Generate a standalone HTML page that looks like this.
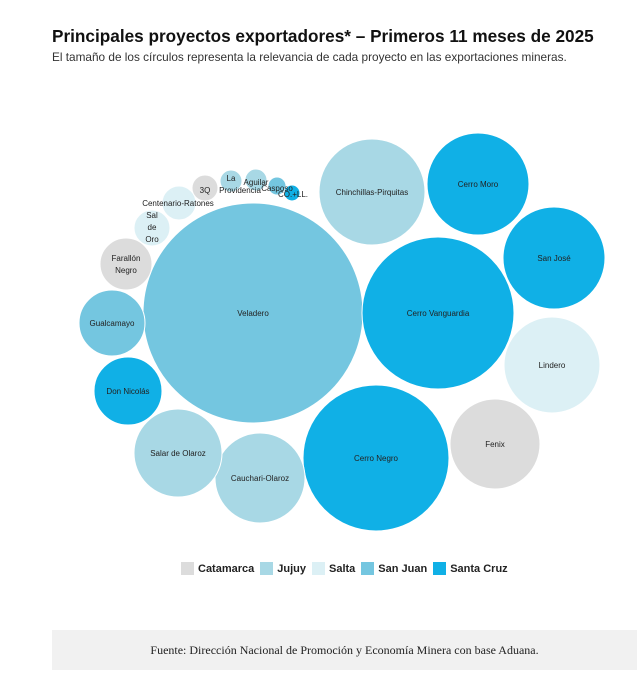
<!DOCTYPE html>
<html><head><meta charset="utf-8"><style>
body{margin:0;width:642px;height:674px;background:#fff;font-family:"Liberation Sans",sans-serif;overflow:hidden;position:relative}
.t{position:absolute;left:52px;top:26px;font-size:17.2px;font-weight:bold;color:#111}
.s{position:absolute;left:52px;top:50px;font-size:11.8px;color:#333}
.f{position:absolute;left:52px;top:630px;width:585px;height:40px;background:#f1f1f1;font-family:"Liberation Serif",serif;font-size:12px;color:#222;text-align:center;line-height:40px}
svg text{font-family:"Liberation Sans",sans-serif;font-size:8px;fill:#222;text-anchor:middle}
</style></head><body>
<div class="t">Principales proyectos exportadores* – Primeros 11 meses de 2025</div>
<div class="s">El tamaño de los círculos representa la relevancia de cada proyecto en las exportaciones mineras.</div>
<svg width="642" height="674" style="position:absolute;left:0;top:0">
<g stroke="#fff" stroke-width="1">
<circle cx="253" cy="313" r="110" fill="#74c6e0"/>
<circle cx="372" cy="192" r="53" fill="#a8d8e5"/>
<circle cx="478" cy="184" r="51" fill="#10b0e6"/>
<circle cx="554" cy="258" r="51" fill="#10b0e6"/>
<circle cx="438" cy="313" r="76" fill="#10b0e6"/>
<circle cx="552" cy="365" r="48" fill="#dcf0f5"/>
<circle cx="495" cy="444" r="45" fill="#dcdcdc"/>
<circle cx="376" cy="458" r="73" fill="#10b0e6"/>
<circle cx="260" cy="478" r="45" fill="#a8d8e5"/>
<circle cx="178" cy="453" r="44" fill="#a8d8e5"/>
<circle cx="128" cy="391" r="34" fill="#10b0e6"/>
<circle cx="112" cy="323" r="33" fill="#74c6e0"/>
<circle cx="126" cy="264" r="26" fill="#dcdcdc"/>
<circle cx="152" cy="228" r="18" fill="#dcf0f5"/>
<circle cx="179" cy="203" r="17" fill="#dcf0f5"/>
<circle cx="205" cy="188" r="13" fill="#dcdcdc"/>
<circle cx="231" cy="181" r="11" fill="#a8d8e5"/>
<circle cx="256" cy="180" r="11" fill="#a8d8e5"/>
<circle cx="277" cy="186" r="9" fill="#74c6e0"/>
<circle cx="292" cy="193" r="8" fill="#10b0e6"/>
</g>
<text x="253" y="316">Veladero</text>
<text x="372" y="195">Chinchillas-Pirquitas</text>
<text x="478" y="187">Cerro Moro</text>
<text x="554" y="261">San José</text>
<text x="438" y="316">Cerro Vanguardia</text>
<text x="552" y="368">Lindero</text>
<text x="495" y="447">Fenix</text>
<text x="376" y="461">Cerro Negro</text>
<text x="260" y="481">Cauchari-Olaroz</text>
<text x="178" y="456">Salar de Olaroz</text>
<text x="128" y="394">Don Nicolás</text>
<text x="112" y="326">Gualcamayo</text>
<text x="126" y="261">Farallón</text><text x="126" y="273">Negro</text>
<text x="152" y="218">Sal</text><text x="152" y="230">de</text><text x="152" y="242">Oro</text>
<text x="178" y="206">Centenario-Ratones</text>
<text x="205" y="193">3Q</text>
<text x="231" y="181">La</text><text x="240" y="193">Providencia</text>
<text x="256" y="185">Aguilar</text>
<text x="277" y="191">Casposo</text>
<text x="293" y="197">CO.+LL.</text>
</svg>
<div style="position:absolute;left:181px;top:562px;font-size:11px;font-weight:bold;color:#222;display:flex;align-items:center;gap:4px;white-space:nowrap">
<span style="width:13px;height:13px;background:#dcdcdc"></span>Catamarca
<span style="width:13px;height:13px;background:#a8d8e5;margin-left:2px"></span>Jujuy
<span style="width:13px;height:13px;background:#dcf0f5;margin-left:2px"></span>Salta
<span style="width:13px;height:13px;background:#74c6e0;margin-left:2px"></span>San Juan
<span style="width:13px;height:13px;background:#10b0e6;margin-left:2px"></span>Santa Cruz
</div>
<div class="f">Fuente: Dirección Nacional de Promoción y Economía Minera con base Aduana.</div>
</body></html>
